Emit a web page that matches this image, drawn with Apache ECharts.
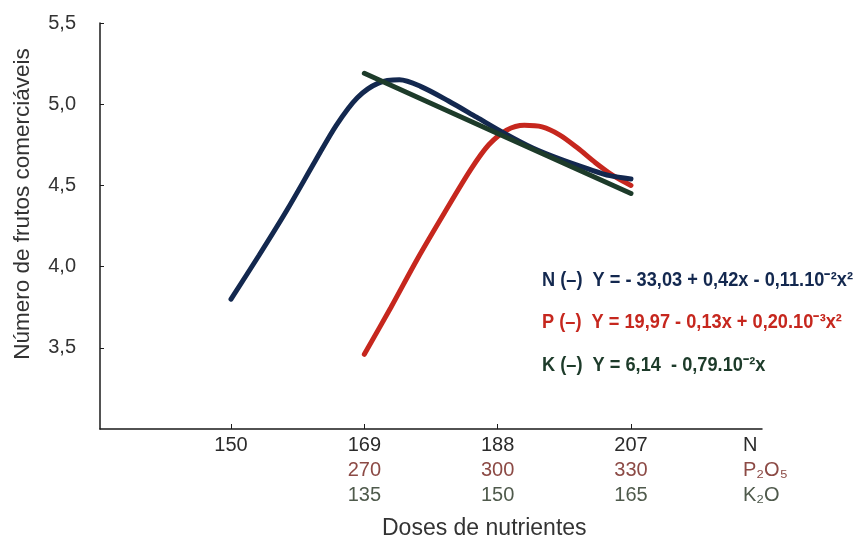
<!DOCTYPE html>
<html>
<head>
<meta charset="utf-8">
<script src="https://cdn.jsdelivr.net/npm/echarts@6/dist/echarts.min.js"></script>
<style>html,body{margin:0;padding:0;background:#fff;}#c{width:858px;height:544px;}</style>
</head>
<body>
<div id="c"></div>
<script>
// ---- data ----
const nTicks = [150, 169, 188, 207];
const pTicks = [270, 300, 330];
const kTicks = [135, 150, 165];

const nX = [150, 154, 158, 162, 165, 168, 171, 174, 177, 181, 185, 189, 193, 197, 201, 204, 207];
const nY = [3.80, 4.07, 4.35, 4.65, 4.87, 5.04, 5.13, 5.15, 5.11, 5.02, 4.92, 4.82, 4.73, 4.66, 4.60, 4.56, 4.54];

const pX = [270, 276, 282, 288, 294, 298, 302, 306, 310, 314, 318, 322, 326, 330];
const pY = [3.46, 3.75, 4.05, 4.33, 4.60, 4.75, 4.84, 4.87, 4.86, 4.81, 4.73, 4.64, 4.56, 4.50];

const kX = [135, 150, 165];
const kY = [5.19, 4.82, 4.45];

const equations = [
  'N (–)  Y = - 33,03 + 0,42x - 0,11.10⁻²x²',
  'P (–)  Y = 19,97 - 0,13x + 0,20.10⁻³x²',
  'K (–)  Y = 6,14  - 0,79.10⁻²x'
];
const axisNames = ['N', 'P₂O₅', 'K₂O'];
const yTitle = 'Número de frutos comerciáveis';
const xTitle = 'Doses de nutrientes';

// ---- styling ----
const cN = '#13284f', cP = '#c6271e', cK = '#1d3b2a';
const lN = '#2b2b2b', lP = '#8c4a45', lK = '#4f5a4c';
const FONT = '"Liberation Sans", Arial, sans-serif';

// axis ranges (N scale extended beyond ticks; P and K aligned to N)
const nMin = 131.33, nMax = 225.67;
const pPerN = (pTicks[2] - pTicks[0]) / (nTicks[3] - nTicks[1]);
const kPerN = (kTicks[2] - kTicks[0]) / (nTicks[3] - nTicks[1]);
const pMin = pTicks[0] + (nMin - nTicks[1]) * pPerN, pMax = pTicks[0] + (nMax - nTicks[1]) * pPerN;
const kMin = kTicks[0] + (nMin - nTicks[1]) * kPerN, kMax = kTicks[0] + (nMax - nTicks[1]) * kPerN;

const zip = (a, b) => a.map((v, i) => [v, b[i]]);

function xAx(min, max, ticks, color, name, offset, showLine) {
  return {
    type: 'value', min, max, position: 'bottom', offset,
    axisLine: {show: showLine, onZero: false, lineStyle: {color: '#1a1a1a', width: 1.5}},
    axisTick: {show: showLine, inside: true, length: 5, customValues: ticks, lineStyle: {color: '#1a1a1a', width: 1}},
    splitLine: {show: false},
    axisLabel: {customValues: ticks, color, fontSize: 20, fontFamily: FONT, margin: 6},
    name, nameLocation: 'end', nameGap: -19, nameMoveOverlap: false,
    nameTextStyle: {color, fontSize: 20, fontFamily: FONT, align: 'left', verticalAlign: 'top', padding: [6, 0, 0, 0]}
  };
}

// equation text condensed to fit
const EQ_FONT = 'bold 20px "Liberation Sans", Arial, sans-serif';
const cv = document.createElement('canvas').getContext('2d');
cv.font = EQ_FONT;
const eqScale = 311 / cv.measureText(equations[0]).width;
const eqY = [280, 322, 365];
const eqColors = [cN, cP, cK];

const chart = echarts.init(document.getElementById('c'), null, {renderer: 'canvas'});
chart.setOption({
  backgroundColor: '#ffffff',
  animation: false,
  grid: {left: 100, right: 96, top: 23, bottom: 115, containLabel: false, outerBoundsMode: 'none'},
  title: {text: xTitle, left: 377, top: 512, textStyle: {fontSize: 23, fontWeight: 'normal', color: '#333', fontFamily: FONT}},
  xAxis: [
    xAx(nMin, nMax, nTicks, lN, axisNames[0], 0, true),
    xAx(pMin, pMax, pTicks, lP, axisNames[1], 25, false),
    xAx(kMin, kMax, kTicks, lK, axisNames[2], 50, false)
  ],
  yAxis: {
    type: 'value', min: 3, max: 5.5, interval: 0.5,
    axisLine: {show: true, onZero: false, lineStyle: {color: '#1a1a1a', width: 1.5}},
    axisTick: {show: true, inside: true, length: 4, lineStyle: {color: '#1a1a1a'}},
    splitLine: {show: false},
    axisLabel: {showMinLabel: false, color: '#333', fontSize: 20, fontFamily: FONT, margin: 24,
      formatter: v => v.toFixed(1).replace('.', ',')},
    name: yTitle, nameLocation: 'middle', nameGap: 66, nameMoveOverlap: false,
    nameTextStyle: {color: '#333', fontSize: 22.5, fontFamily: FONT, padding: [0, 0, 0, 44]}
  },
  series: [
    {type: 'line', xAxisIndex: 1, data: zip(pX, pY), smooth: 0.3, showSymbol: false,
      lineStyle: {color: cP, width: 5, cap: 'round'}, z: 2},
    {type: 'line', xAxisIndex: 0, data: zip(nX, nY), smooth: 0.3, showSymbol: false,
      lineStyle: {color: cN, width: 5, cap: 'round'}, z: 3},
    {type: 'line', xAxisIndex: 2, data: zip(kX, kY), smooth: false, showSymbol: false,
      lineStyle: {color: cK, width: 5, cap: 'round'}, z: 4}
  ],
  graphic: equations.map((t, i) => ({
    type: 'text', x: 542, y: eqY[i], scaleX: eqScale, originX: 0,
    style: {text: t, fill: eqColors[i], font: EQ_FONT, verticalAlign: 'middle', align: 'left'}
  }))
});
</script>
</body>
</html>
